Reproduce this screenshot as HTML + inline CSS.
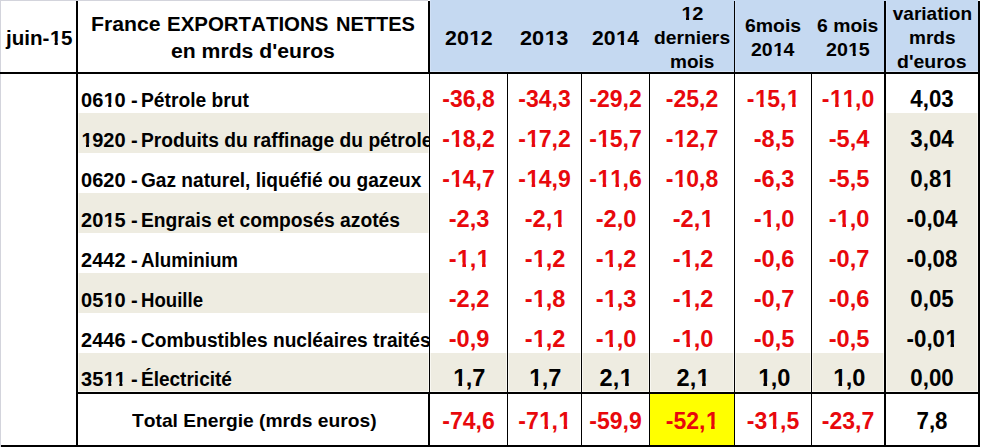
<!DOCTYPE html>
<html><head><meta charset="utf-8"><title>France exportations nettes</title>
<style>
html,body{margin:0;padding:0;background:#fff;}
body{width:989px;height:447px;position:relative;overflow:hidden;font-family:"Liberation Sans",sans-serif;font-weight:bold;font-kerning:none;}
.r{position:absolute;}
.t{position:absolute;white-space:pre;line-height:30px;}
.clip{position:absolute;left:78px;top:0;width:351px;height:447px;overflow:hidden;}
.o{display:inline-block;transform:translateX(0.023em);}
.s19 .o{clip-path:polygon(0 0,100% 0,100% 17.2px,68.2% 17.2px,68.2% 100%,40.4% 100%,40.4% 17.2px,0 17.2px);}
.s19_5 .o{clip-path:polygon(0 0,100% 0,100% 18.1px,68.2% 18.1px,68.2% 100%,40.4% 100%,40.4% 18.1px,0 18.1px);}
.s20 .o{clip-path:polygon(0 0,100% 0,100% 18.0px,68.2% 18.0px,68.2% 100%,40.4% 100%,40.4% 18.0px,0 18.0px);}
.s20_5 .o{clip-path:polygon(0 0,100% 0,100% 17.9px,68.2% 17.9px,68.2% 100%,40.4% 100%,40.4% 17.9px,0 17.9px);}
.s23 .o{clip-path:polygon(0 0,100% 0,100% 18.4px,68.2% 18.4px,68.2% 100%,40.4% 100%,40.4% 18.4px,0 18.4px);}
</style></head><body>
<div class="r" style="left:0px;top:0px;width:428px;height:1px;background:#d3d4dc"></div>
<div class="r" style="left:0px;top:0px;width:1px;height:447px;background:#d3d4dc"></div>
<div class="r" style="left:430px;top:0px;width:548px;height:72px;background:#c5d9f1"></div>
<div class="r" style="left:430px;top:0px;width:1px;height:72px;background:#d0e0f5"></div>
<div class="r" style="left:735px;top:0px;width:1px;height:72px;background:#d0e0f5"></div>
<div class="r" style="left:886px;top:0px;width:1px;height:72px;background:#d0e0f5"></div>
<div class="r" style="left:430px;top:71px;width:548px;height:1px;background:#d8e5f6"></div>
<div class="r" style="left:78px;top:113px;width:351px;height:40px;background:#f8f7f1"></div>
<div class="r" style="left:79px;top:113px;width:349px;height:40px;background:#eeece1"></div>
<div class="r" style="left:78px;top:193px;width:351px;height:40px;background:#f8f7f1"></div>
<div class="r" style="left:79px;top:193px;width:349px;height:40px;background:#eeece1"></div>
<div class="r" style="left:78px;top:273px;width:351px;height:40px;background:#f8f7f1"></div>
<div class="r" style="left:79px;top:273px;width:349px;height:40px;background:#eeece1"></div>
<div class="r" style="left:78px;top:353px;width:351px;height:39px;background:#f8f7f1"></div>
<div class="r" style="left:79px;top:353px;width:349px;height:38px;background:#eeece1"></div>
<div class="r" style="left:430px;top:353px;width:454px;height:39px;background:#f8f7f1"></div>
<div class="r" style="left:431px;top:353px;width:75px;height:38px;background:#eeece1"></div>
<div class="r" style="left:509px;top:353px;width:71px;height:38px;background:#eeece1"></div>
<div class="r" style="left:583px;top:353px;width:65px;height:38px;background:#eeece1"></div>
<div class="r" style="left:651px;top:353px;width:82px;height:38px;background:#eeece1"></div>
<div class="r" style="left:736px;top:353px;width:74px;height:38px;background:#eeece1"></div>
<div class="r" style="left:813px;top:353px;width:70px;height:38px;background:#eeece1"></div>
<div class="r" style="left:886px;top:113px;width:92px;height:279px;background:#f8f7f1"></div>
<div class="r" style="left:887px;top:113px;width:90px;height:278px;background:#eeece1"></div>
<div class="r" style="left:650px;top:394px;width:84px;height:51px;background:#ffff00"></div>
<div class="r" style="left:76px;top:1px;width:2px;height:446px;background:#000"></div>
<div class="r" style="left:428px;top:1px;width:2px;height:73px;background:#000"></div>
<div class="r" style="left:429px;top:74px;width:1px;height:318px;background:#000"></div>
<div class="r" style="left:428px;top:392px;width:2px;height:55px;background:#000"></div>
<div class="r" style="left:507px;top:74px;width:1px;height:371px;background:#000"></div>
<div class="r" style="left:581px;top:74px;width:1px;height:371px;background:#000"></div>
<div class="r" style="left:649px;top:74px;width:1px;height:371px;background:#000"></div>
<div class="r" style="left:811px;top:74px;width:1px;height:371px;background:#000"></div>
<div class="r" style="left:734px;top:1px;width:1px;height:444px;background:#000"></div>
<div class="r" style="left:884px;top:1px;width:2px;height:446px;background:#000"></div>
<div class="r" style="left:978px;top:1px;width:2px;height:446px;background:#000"></div>
<div class="r" style="left:0px;top:72px;width:980px;height:2px;background:#000"></div>
<div class="r" style="left:76px;top:392px;width:904px;height:2px;background:#000"></div>
<div class="r" style="left:1px;top:445px;width:979px;height:2px;background:#000"></div>
<div class="hdr">
<div class="t s20" style="top:23px;left:5.56px;font-size:20px;transform:scaleX(1.0297);transform-origin:0 0;">juin-<span class="o">1</span>5</div>
<div class="t s20" style="top:9px;left:90.88px;font-size:20px;transform:scaleX(1.0598);transform-origin:0 0;">France</div>
<div class="t s20" style="top:9px;left:166.82px;font-size:20px;transform:scaleX(1.0228);transform-origin:0 0;">EXPORTATIONS</div>
<div class="t s20" style="top:9px;left:335.55px;font-size:20px;transform:scaleX(1.0007);transform-origin:0 0;">NETTES</div>
<div class="t s20" style="top:36px;left:171.11px;font-size:20px;transform:scaleX(1.0584);transform-origin:0 0;">en mrds d'euros</div>
<div class="t s20_5" style="top:23px;left:444.72px;font-size:20.5px;transform:scaleX(1.0432);transform-origin:0 0;">20<span class="o">1</span>2</div>
<div class="t s20_5" style="top:23px;left:519.71px;font-size:20.5px;transform:scaleX(1.0591);transform-origin:0 0;">20<span class="o">1</span>3</div>
<div class="t s20_5" style="top:23px;left:591.53px;font-size:20.5px;transform:scaleX(1.0302);transform-origin:0 0;">20<span class="o">1</span>4</div>
<div class="t s19" style="top:-1px;left:680.58px;font-size:19px;transform:scaleX(1.0579);transform-origin:0 0;"><span class="o">1</span>2</div>
<div class="t s19" style="top:23px;left:653.54px;font-size:19px;transform:scaleX(1.0150);transform-origin:0 0;">derniers</div>
<div class="t s19" style="top:47px;left:669.65px;font-size:19px;transform:scaleX(1.0012);transform-origin:0 0;">mois</div>
<div class="t s19" style="top:11px;left:744.73px;font-size:19px;transform:scaleX(1.0224);transform-origin:0 0;">6mois</div>
<div class="t s19" style="top:35px;left:751.13px;font-size:19px;transform:scaleX(1.0265);transform-origin:0 0;">20<span class="o">1</span>4</div>
<div class="t s19" style="top:11px;left:816.94px;font-size:19px;transform:scaleX(1.0196);transform-origin:0 0;">6 mois</div>
<div class="t s19" style="top:35px;left:826.02px;font-size:19px;transform:scaleX(1.0341);transform-origin:0 0;">20<span class="o">1</span>5</div>
<div class="t s19" style="top:-1px;left:892.80px;font-size:19px;transform:scaleX(1.0000);transform-origin:0 0;">variation</div>
<div class="t s19" style="top:23px;left:908.55px;font-size:19px;transform:scaleX(1.0022);transform-origin:0 0;">mrds</div>
<div class="t s19" style="top:47px;left:897.33px;font-size:19px;transform:scaleX(1.0249);transform-origin:0 0;">d'euros</div>
</div>
<div class="row">
<div class="clip">
<div class="t s19_5" style="top:85px;left:2.80px;font-size:19.5px;transform:scaleX(1.026);transform-origin:0 0;">06<span class="o">1</span>0 - </div>
<div class="t s19_5" style="top:85px;left:63.17px;font-size:19.5px;transform:scaleX(0.9861);transform-origin:0 0;">Pétrole brut</div>
</div>
<div class="t s23" style="top:84px;font-size:23px;left:318.50px;width:300px;text-align:center;color:#e8080c;">-36,8</div>
<div class="t s23" style="top:84px;font-size:23px;left:394.50px;width:300px;text-align:center;color:#e8080c;">-34,3</div>
<div class="t s23" style="top:84px;font-size:23px;left:465.50px;width:300px;text-align:center;color:#e8080c;">-29,2</div>
<div class="t s23" style="top:84px;font-size:23px;left:542.00px;width:300px;text-align:center;color:#e8080c;">-25,2</div>
<div class="t s23" style="top:84px;font-size:23px;left:623.00px;width:300px;text-align:center;color:#e8080c;">-<span class="o">1</span>5,<span class="o">1</span></div>
<div class="t s23" style="top:84px;font-size:23px;left:698.00px;width:300px;text-align:center;color:#e8080c;">-<span class="o">1</span><span class="o">1</span>,0</div>
<div class="t s23" style="top:84px;font-size:23px;left:782.00px;width:300px;text-align:center;transform:scaleX(0.97);">4,03</div>
</div>
<div class="row">
<div class="clip">
<div class="t s19_5" style="top:125px;left:2.80px;font-size:19.5px;transform:scaleX(1.026);transform-origin:0 0;"><span class="o">1</span>920 - </div>
<div class="t s19_5" style="top:125px;left:63.17px;font-size:19.5px;transform:scaleX(0.9854);transform-origin:0 0;">Produits du raffinage du pétrole</div>
</div>
<div class="t s23" style="top:124px;font-size:23px;left:318.50px;width:300px;text-align:center;color:#e8080c;">-<span class="o">1</span>8,2</div>
<div class="t s23" style="top:124px;font-size:23px;left:394.50px;width:300px;text-align:center;color:#e8080c;">-<span class="o">1</span>7,2</div>
<div class="t s23" style="top:124px;font-size:23px;left:465.50px;width:300px;text-align:center;color:#e8080c;">-<span class="o">1</span>5,7</div>
<div class="t s23" style="top:124px;font-size:23px;left:542.00px;width:300px;text-align:center;color:#e8080c;">-<span class="o">1</span>2,7</div>
<div class="t s23" style="top:124px;font-size:23px;left:623.50px;width:300px;text-align:center;color:#e8080c;transform:scaleX(1.025);">-8,5</div>
<div class="t s23" style="top:124px;font-size:23px;left:698.50px;width:300px;text-align:center;color:#e8080c;transform:scaleX(1.025);">-5,4</div>
<div class="t s23" style="top:124px;font-size:23px;left:782.00px;width:300px;text-align:center;transform:scaleX(0.97);">3,04</div>
</div>
<div class="row">
<div class="clip">
<div class="t s19_5" style="top:165px;left:2.80px;font-size:19.5px;transform:scaleX(1.026);transform-origin:0 0;">0620 - </div>
<div class="t s19_5" style="top:165px;left:62.96px;font-size:19.5px;transform:scaleX(0.9800);transform-origin:0 0;">Gaz naturel, liquéfié ou gazeux</div>
</div>
<div class="t s23" style="top:164px;font-size:23px;left:318.50px;width:300px;text-align:center;color:#e8080c;">-<span class="o">1</span>4,7</div>
<div class="t s23" style="top:164px;font-size:23px;left:394.50px;width:300px;text-align:center;color:#e8080c;">-<span class="o">1</span>4,9</div>
<div class="t s23" style="top:164px;font-size:23px;left:465.50px;width:300px;text-align:center;color:#e8080c;">-<span class="o">1</span><span class="o">1</span>,6</div>
<div class="t s23" style="top:164px;font-size:23px;left:542.00px;width:300px;text-align:center;color:#e8080c;">-<span class="o">1</span>0,8</div>
<div class="t s23" style="top:164px;font-size:23px;left:623.50px;width:300px;text-align:center;color:#e8080c;transform:scaleX(1.025);">-6,3</div>
<div class="t s23" style="top:164px;font-size:23px;left:698.50px;width:300px;text-align:center;color:#e8080c;transform:scaleX(1.025);">-5,5</div>
<div class="t s23" style="top:164px;font-size:23px;left:782.00px;width:300px;text-align:center;transform:scaleX(0.97);">0,8<span class="o">1</span></div>
</div>
<div class="row">
<div class="clip">
<div class="t s19_5" style="top:205px;left:2.80px;font-size:19.5px;transform:scaleX(1.026);transform-origin:0 0;">20<span class="o">1</span>5 - </div>
<div class="t s19_5" style="top:205px;left:62.87px;font-size:19.5px;transform:scaleX(0.9875);transform-origin:0 0;">Engrais et composés azotés</div>
</div>
<div class="t s23" style="top:204px;font-size:23px;left:319.00px;width:300px;text-align:center;color:#e8080c;transform:scaleX(1.025);">-2,3</div>
<div class="t s23" style="top:204px;font-size:23px;left:395.00px;width:300px;text-align:center;color:#e8080c;transform:scaleX(1.025);">-2,<span class="o">1</span></div>
<div class="t s23" style="top:204px;font-size:23px;left:466.00px;width:300px;text-align:center;color:#e8080c;transform:scaleX(1.025);">-2,0</div>
<div class="t s23" style="top:204px;font-size:23px;left:542.50px;width:300px;text-align:center;color:#e8080c;transform:scaleX(1.025);">-2,<span class="o">1</span></div>
<div class="t s23" style="top:204px;font-size:23px;left:623.50px;width:300px;text-align:center;color:#e8080c;transform:scaleX(1.025);">-<span class="o">1</span>,0</div>
<div class="t s23" style="top:204px;font-size:23px;left:698.50px;width:300px;text-align:center;color:#e8080c;transform:scaleX(1.025);">-<span class="o">1</span>,0</div>
<div class="t s23" style="top:204px;font-size:23px;left:782.00px;width:300px;text-align:center;transform:scaleX(0.97);">-0,04</div>
</div>
<div class="row">
<div class="clip">
<div class="t s19_5" style="top:245px;left:2.80px;font-size:19.5px;transform:scaleX(1.026);transform-origin:0 0;">2442 - </div>
<div class="t s19_5" style="top:245px;left:62.82px;font-size:19.5px;transform:scaleX(0.9636);transform-origin:0 0;">Aluminium</div>
</div>
<div class="t s23" style="top:244px;font-size:23px;left:319.00px;width:300px;text-align:center;color:#e8080c;transform:scaleX(1.025);">-<span class="o">1</span>,<span class="o">1</span></div>
<div class="t s23" style="top:244px;font-size:23px;left:395.00px;width:300px;text-align:center;color:#e8080c;transform:scaleX(1.025);">-<span class="o">1</span>,2</div>
<div class="t s23" style="top:244px;font-size:23px;left:466.00px;width:300px;text-align:center;color:#e8080c;transform:scaleX(1.025);">-<span class="o">1</span>,2</div>
<div class="t s23" style="top:244px;font-size:23px;left:542.50px;width:300px;text-align:center;color:#e8080c;transform:scaleX(1.025);">-<span class="o">1</span>,2</div>
<div class="t s23" style="top:244px;font-size:23px;left:623.50px;width:300px;text-align:center;color:#e8080c;transform:scaleX(1.025);">-0,6</div>
<div class="t s23" style="top:244px;font-size:23px;left:698.50px;width:300px;text-align:center;color:#e8080c;transform:scaleX(1.025);">-0,7</div>
<div class="t s23" style="top:244px;font-size:23px;left:782.00px;width:300px;text-align:center;transform:scaleX(0.97);">-0,08</div>
</div>
<div class="row">
<div class="clip">
<div class="t s19_5" style="top:285px;left:2.80px;font-size:19.5px;transform:scaleX(1.026);transform-origin:0 0;">05<span class="o">1</span>0 - </div>
<div class="t s19_5" style="top:285px;left:62.81px;font-size:19.5px;transform:scaleX(0.9540);transform-origin:0 0;">Houille</div>
</div>
<div class="t s23" style="top:284px;font-size:23px;left:319.00px;width:300px;text-align:center;color:#e8080c;transform:scaleX(1.025);">-2,2</div>
<div class="t s23" style="top:284px;font-size:23px;left:395.00px;width:300px;text-align:center;color:#e8080c;transform:scaleX(1.025);">-<span class="o">1</span>,8</div>
<div class="t s23" style="top:284px;font-size:23px;left:466.00px;width:300px;text-align:center;color:#e8080c;transform:scaleX(1.025);">-<span class="o">1</span>,3</div>
<div class="t s23" style="top:284px;font-size:23px;left:542.50px;width:300px;text-align:center;color:#e8080c;transform:scaleX(1.025);">-<span class="o">1</span>,2</div>
<div class="t s23" style="top:284px;font-size:23px;left:623.50px;width:300px;text-align:center;color:#e8080c;transform:scaleX(1.025);">-0,7</div>
<div class="t s23" style="top:284px;font-size:23px;left:698.50px;width:300px;text-align:center;color:#e8080c;transform:scaleX(1.025);">-0,6</div>
<div class="t s23" style="top:284px;font-size:23px;left:782.00px;width:300px;text-align:center;transform:scaleX(0.97);">0,05</div>
</div>
<div class="row">
<div class="clip">
<div class="t s19_5" style="top:325px;left:2.80px;font-size:19.5px;transform:scaleX(1.026);transform-origin:0 0;">2446 - </div>
<div class="t s19_5" style="top:325px;left:63.16px;font-size:19.5px;transform:scaleX(0.9823);transform-origin:0 0;">Combustibles nucléaires traités</div>
</div>
<div class="t s23" style="top:324px;font-size:23px;left:319.00px;width:300px;text-align:center;color:#e8080c;transform:scaleX(1.025);">-0,9</div>
<div class="t s23" style="top:324px;font-size:23px;left:395.00px;width:300px;text-align:center;color:#e8080c;transform:scaleX(1.025);">-<span class="o">1</span>,2</div>
<div class="t s23" style="top:324px;font-size:23px;left:466.00px;width:300px;text-align:center;color:#e8080c;transform:scaleX(1.025);">-<span class="o">1</span>,0</div>
<div class="t s23" style="top:324px;font-size:23px;left:542.50px;width:300px;text-align:center;color:#e8080c;transform:scaleX(1.025);">-<span class="o">1</span>,0</div>
<div class="t s23" style="top:324px;font-size:23px;left:623.50px;width:300px;text-align:center;color:#e8080c;transform:scaleX(1.025);">-0,5</div>
<div class="t s23" style="top:324px;font-size:23px;left:698.50px;width:300px;text-align:center;color:#e8080c;transform:scaleX(1.025);">-0,5</div>
<div class="t s23" style="top:324px;font-size:23px;left:782.00px;width:300px;text-align:center;transform:scaleX(0.97);">-0,0<span class="o">1</span></div>
</div>
<div class="row">
<div class="clip">
<div class="t s19_5" style="top:364px;left:2.80px;font-size:19.5px;transform:scaleX(1.026);transform-origin:0 0;">35<span class="o">1</span><span class="o">1</span> - </div>
<div class="t s19_5" style="top:364px;left:62.88px;font-size:19.5px;transform:scaleX(0.9753);transform-origin:0 0;">Électricité</div>
</div>
<div class="t s23" style="top:363px;font-size:23px;left:319.00px;width:300px;text-align:center;transform:scaleX(1.025);"><span class="o">1</span>,7</div>
<div class="t s23" style="top:363px;font-size:23px;left:395.00px;width:300px;text-align:center;transform:scaleX(1.025);"><span class="o">1</span>,7</div>
<div class="t s23" style="top:363px;font-size:23px;left:466.00px;width:300px;text-align:center;transform:scaleX(1.025);">2,<span class="o">1</span></div>
<div class="t s23" style="top:363px;font-size:23px;left:542.50px;width:300px;text-align:center;transform:scaleX(1.025);">2,<span class="o">1</span></div>
<div class="t s23" style="top:363px;font-size:23px;left:623.50px;width:300px;text-align:center;transform:scaleX(1.025);"><span class="o">1</span>,0</div>
<div class="t s23" style="top:363px;font-size:23px;left:698.50px;width:300px;text-align:center;transform:scaleX(1.025);"><span class="o">1</span>,0</div>
<div class="t s23" style="top:363px;font-size:23px;left:782.00px;width:300px;text-align:center;transform:scaleX(0.97);">0,00</div>
</div>
<div class="row total">
<div class="t s19" style="top:406px;left:132.45px;font-size:19px;transform:scaleX(1.0116);transform-origin:0 0;">Total Energie (mrds euros)</div>
<div class="t s23" style="top:406px;font-size:23px;left:318.50px;width:300px;text-align:center;color:#e8080c;">-74,6</div>
<div class="t s23" style="top:406px;font-size:23px;left:394.50px;width:300px;text-align:center;color:#e8080c;">-7<span class="o">1</span>,<span class="o">1</span></div>
<div class="t s23" style="top:406px;font-size:23px;left:465.50px;width:300px;text-align:center;color:#e8080c;">-59,9</div>
<div class="t s23" style="top:406px;font-size:23px;left:542.00px;width:300px;text-align:center;color:#e8080c;">-52,<span class="o">1</span></div>
<div class="t s23" style="top:406px;font-size:23px;left:623.00px;width:300px;text-align:center;color:#e8080c;">-3<span class="o">1</span>,5</div>
<div class="t s23" style="top:406px;font-size:23px;left:698.00px;width:300px;text-align:center;color:#e8080c;">-23,7</div>
<div class="t s23" style="top:406px;font-size:23px;left:782.00px;width:300px;text-align:center;transform:scaleX(0.97);">7,8</div>
</div>
</body></html>
